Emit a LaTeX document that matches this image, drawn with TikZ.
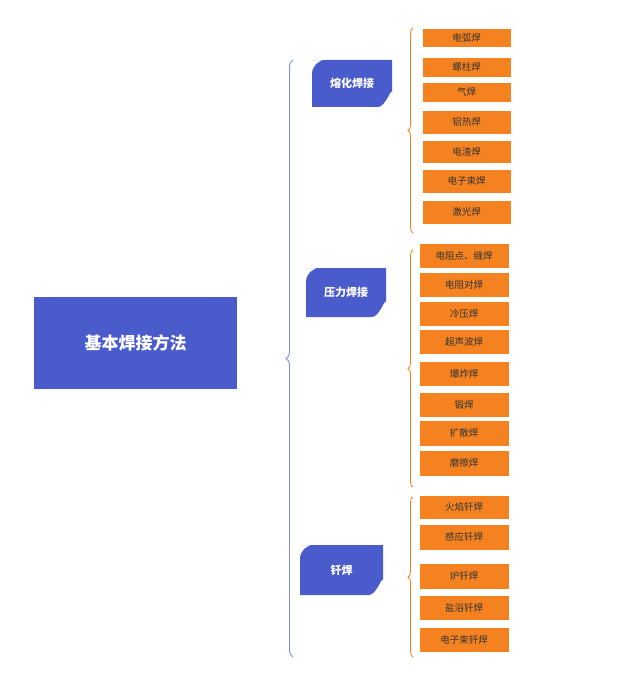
\documentclass[tikz,border=0pt]{standalone}
\usepackage{fontspec}
\setmainfont{Noto Sans CJK SC}
\usetikzlibrary{decorations.pathreplacing}
\definecolor{mblue}{HTML}{4A5BCB}
\definecolor{morange}{HTML}{F58220}
\definecolor{lblue}{HTML}{7F8BDB}
\tikzset{
  px/.style={x=1pt,y=-1pt},
  item/.style={fill=morange,draw=white,line width=0.6pt,inner sep=0pt,font=\fontsize{9.5}{10}\selectfont,text=black!80},
  mainbox/.style={fill=mblue,text=white,font=\fontsize{17}{18}\selectfont\bfseries,inner sep=0pt},
  bluebrace/.style={draw=lblue,line width=0.9pt,decorate,decoration={brace,amplitude=7pt,aspect=#1}},
  orbrace/.style={draw=morange,line width=0.8pt,decorate,decoration={brace,amplitude=5pt,aspect=#1}},
}
\newcommand{\catbox}[6]{% name, x1,y1,x2,y2,text
  \fill[mblue,rounded corners=0pt] (#2,#3+0.01) -- (#4,#3) -- (#4,#5-14) to[out=90,in=0] (#4-14,#5) -- (#2,#5) -- (#2,#3+14) to[out=90,in=180] (#2+14,#3) -- (#4,#3);
  \node[text=white,font=\fontsize{11}{12}\selectfont\bfseries] (#1) at ({(#2+#4)/2},{(#3+#5)/2}) {#6};
}
\newcommand{\itm}[6]{%
  \node[item,minimum width={(#4-#2)*1pt},minimum height={(#5-#3)*1pt}] (#1) at ({(#2+#4)/2},{(#3+#5)/2}) {#6};
}
\begin{document}
\begin{tikzpicture}[px]
\useasboundingbox (0,0) rectangle (640,682);
\fill[white] (0,0) rectangle (640,682);
\node[mainbox,minimum width=203pt,minimum height=92pt] (root) at (135.5,343) {基本焊接方法};
\draw[bluebrace=0.5] (293,657) -- (293,60);
\coordinate (rb) at (261,357);
\catbox{c1}{312}{60}{392}{107}{熔化焊接}
\catbox{c2}{306}{268}{386}{317}{压力焊接}
\catbox{c3}{300}{545}{383}{595}{钎焊}
\draw[orbrace=0.5] (413,233) -- (413,28);
\draw[orbrace=0.5] (413,487) -- (413,250);
\draw[orbrace=0.5] (413,657) -- (413,497);
\itm{a1}{422}{28}{511}{47}{电弧焊}
\itm{a2}{422}{57}{511}{77}{螺柱焊}
\itm{a3}{422}{82}{511}{102}{气焊}
\itm{a4}{422}{110}{511}{134}{铝热焊}
\itm{a5}{422}{140}{511}{163}{电渣焊}
\itm{a6}{422}{169}{511}{193}{电子束焊}
\itm{a7}{422}{200}{511}{224}{激光焊}
\itm{b1}{419}{243}{509}{268}{电阻点、缝焊}
\itm{b2}{419}{272}{509}{297}{电阻对焊}
\itm{b3}{419}{301}{509}{326}{冷压焊}
\itm{b4}{419}{329}{509}{354}{超声波焊}
\itm{b5}{419}{361}{509}{386}{爆炸焊}
\itm{b6}{419}{392}{509}{417}{锻焊}
\itm{b7}{419}{420}{509}{446}{扩散焊}
\itm{b8}{419}{450}{509}{476}{磨擦焊}
\itm{d1}{419}{495}{509}{519}{火焰钎焊}
\itm{d2}{419}{524}{509}{550}{感应钎焊}
\itm{d3}{419}{563}{509}{589}{炉钎焊}
\itm{d4}{419}{595}{509}{620}{盐浴钎焊}
\itm{d5}{419}{627}{509}{652}{电子束钎焊}
\end{tikzpicture}
\end{document}
